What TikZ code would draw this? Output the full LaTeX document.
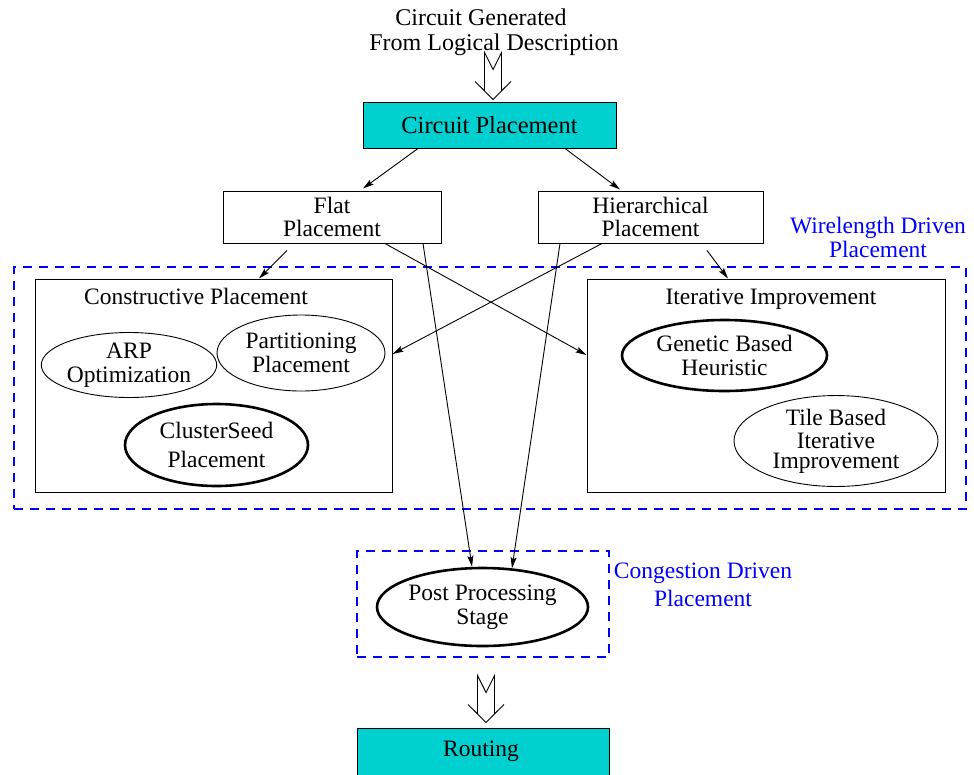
\documentclass[tikz,border=0pt]{standalone}
\usepackage{fontspec}
\setmainfont{Liberation Serif}
\usetikzlibrary{arrows.meta,shapes.geometric}
\definecolor{boxcyan}{RGB}{0,208,208}
\definecolor{regionblue}{RGB}{0,0,255}
\tikzset{
  txt/.style={font=\fontsize{23.5}{23.5}\selectfont, align=center, inner sep=0pt},
  plainbox/.style={txt, draw=black, line width=1pt, rectangle},
  cyanbox/.style={plainbox, fill=boxcyan},
  thinell/.style={txt, draw=black, ellipse, line width=0.9pt},
  thickell/.style={txt, draw=black, ellipse, line width=2.6pt},
  region/.style={draw=regionblue, line width=1.2pt, dash pattern=on 9pt off 7pt},
  regionlabel/.style={txt, text=regionblue},
  arr/.style={draw=black, line width=0.9pt, -{Stealth[length=11pt,width=6pt,inset=2pt]}},
  hollow/.style={draw=black, line width=0.9pt, fill=white, line join=miter},
}
% open double-lined arrow whose tip sits at the given point
\newcommand\hollowarrow[1]{%
  \draw[hollow] (#1) -- ++(-18,-18) -- ++(9.5,9.3) -- ++(0,-38.3)
    -- ++(8.5,17) -- ++(8.5,-17) -- ++(0,38.3) -- ++(9.5,-9.3) -- cycle;}
\begin{document}
\begin{tikzpicture}[x=1pt,y=-1pt]
\useasboundingbox (0,0) rectangle (974,774);

% dashed regions
\node[region, rectangle, minimum width=952pt, minimum height=242pt, inner sep=0pt] (wire) at (490,388) {};
\node[region, rectangle, minimum width=252pt, minimum height=106pt, inner sep=0pt] (cong) at (483,604) {};
\node[regionlabel] (wirelbl) at (878,237.5) {Wirelength Driven\\Placement};
\node[regionlabel] (conglbl) at (703,585) {Congestion Driven\\[5pt]Placement};

% top of the flow
\node[txt, font=\fontsize{24}{25}\selectfont] (src) at (494,32) {Circuit Generated\hspace*{26pt}\\From Logical Description};
\node[cyanbox, font=\fontsize{24.5}{24.5}\selectfont, minimum width=253pt, minimum height=46pt] (cp) at (489.5,125) {Circuit Placement};
\coordinate (tiptop) at ([xshift=3.5pt,yshift=2pt]cp.north);
\hollowarrow{tiptop}

\node[plainbox, minimum width=218pt, minimum height=52pt] (flat) at (332,217) {Flat\\[-1pt]Placement};
\node[plainbox, minimum width=225pt, minimum height=52pt] (hier) at (650.5,217) {Hierarchical\\[-1pt]Placement};

% constructive placement group
\node[draw=black, line width=1pt, rectangle, minimum width=357pt, minimum height=213pt, inner sep=0pt] (cons) at (213.5,385.5) {};
\node[txt, anchor=base] (constitle) at (196,304) {Constructive Placement};
\node[thinell, minimum width=162pt, minimum height=65pt] (arp) at (129,365) {ARP\\Optimization};
\node[thinell, minimum width=168pt, minimum height=76pt] (part) at (301,353) {Partitioning\\Placement};
\node[thickell, minimum width=183pt, minimum height=82pt] (clus) at (216.5,445) {ClusterSeed\\[5pt]Placement};

% iterative improvement group
\node[draw=black, line width=1pt, rectangle, minimum width=358pt, minimum height=213pt, inner sep=0pt] (iter) at (766,385.5) {};
\node[txt, anchor=base] (itertitle) at (771,304) {Iterative Improvement};
\node[thickell, minimum width=205pt, minimum height=71pt] (gen) at (724.5,355.5) {Genetic Based\\Heuristic};
\node[thinell, minimum width=204pt, minimum height=76pt] (tile) at (836,441) {Tile Based\\Iterative\\[-4pt]Improvement};

% post processing and routing
\node[thickell, minimum width=211pt, minimum height=78pt] (post) at (482.5,607) {Post Processing\\Stage};
\node[cyanbox, minimum width=252pt, minimum height=50pt] (route) at (483,753) {};
\node[txt] (routetxt) at (481,751) {Routing};
\coordinate (tipbot) at ([xshift=3pt,yshift=5pt]route.north);
\hollowarrow{tipbot}

% connectors
\draw[arr] ([xshift=-71.5pt]cp.south) -- ([xshift=31pt,yshift=2pt]flat.north);
\draw[arr] ([xshift=75.5pt]cp.south) -- ([xshift=-30.5pt,yshift=1pt]hier.north);
\draw[arr] ([xshift=-45pt,yshift=-7pt]flat.south) -- ([xshift=45.5pt]cons.north);
\draw[arr] ([xshift=56.5pt,yshift=-7pt]hier.south) -- ([xshift=-38pt]iter.north);
\draw[arr] ([xshift=53pt]flat.south) -- ([yshift=30.5pt]iter.west);
\draw[arr] ([xshift=-48.5pt]hier.south) -- ([yshift=31.5pt]cons.east);
\draw[arr] ([xshift=91pt]flat.south) -- ([xshift=-10.5pt]post.north);
\draw[arr] ([xshift=-90.5pt]hier.south) -- ([xshift=29.5pt,yshift=-1.5pt]post.north);
\end{tikzpicture}
\end{document}
